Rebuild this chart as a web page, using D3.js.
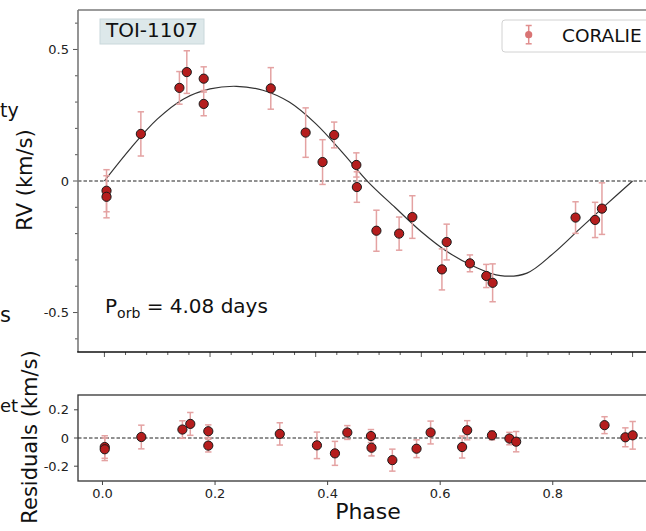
<!DOCTYPE html>
<html><head><meta charset="utf-8">
<script src="https://cdn.jsdelivr.net/npm/d3@7"></script>
<style>
html,body{margin:0;padding:0;background:#fff;overflow:hidden;}
svg{display:block;font-family:"DejaVu Sans",sans-serif;}
</style></head>
<body><svg id="c" width="646" height="531"></svg>
<script>
// ---- data ----
const phases = [0.004, 0.004, 0.069, 0.142, 0.156, 0.188, 0.188, 0.315, 0.381, 0.413, 0.435, 0.477, 0.478, 0.515, 0.558, 0.583, 0.639, 0.648, 0.692, 0.723, 0.735, 0.892, 0.929, 0.942];
const rvValues = [-0.037, -0.060, 0.179, 0.354, 0.414, 0.389, 0.293, 0.352, 0.184, 0.072, 0.175, 0.061, -0.023, -0.189, -0.200, -0.137, -0.336, -0.232, -0.313, -0.361, -0.387, -0.139, -0.148, -0.105];
const rvErrors = [0.080, 0.080, 0.084, 0.062, 0.081, 0.045, 0.045, 0.079, 0.094, 0.085, 0.049, 0.046, 0.058, 0.078, 0.063, 0.081, 0.078, 0.068, 0.032, 0.044, 0.072, 0.060, 0.067, 0.098];
const residuals = [-0.064, -0.080, 0.007, 0.060, 0.100, 0.048, -0.054, 0.029, -0.052, -0.109, 0.039, 0.014, -0.069, -0.157, -0.076, 0.039, -0.064, 0.055, 0.019, -0.004, -0.026, 0.091, 0.005, 0.019];
const modelPhase = [0.00, 0.05, 0.10, 0.15, 0.20, 0.25, 0.30, 0.35, 0.40, 0.45, 0.50, 0.55, 0.60, 0.65, 0.70, 0.75, 0.80, 0.85, 0.90, 0.95, 1.00];
const modelRV = [0.000, 0.125, 0.235, 0.312, 0.350, 0.360, 0.345, 0.300, 0.218, 0.110, -0.005, -0.100, -0.193, -0.270, -0.325, -0.360, -0.350, -0.275, -0.182, -0.090, 0.000];
const rvTicks = [-0.5, 0, 0.5];
const rvTickLabels = ["-0.5", "0", "0.5"];
const resTicks = [-0.2, 0, 0.2];
const resTickLabels = ["-0.2", "0", "0.2"];
const phaseTicks = [0.0, 0.2, 0.4, 0.6, 0.8];
const phaseTickLabels = ["0.0", "0.2", "0.4", "0.6", "0.8"];
const targetName = "TOI-1107";
const instrument = "CORALIE";
const periodDays = "4.08";

const svg = d3.select("#c");
const L = 78, R = 659;
const top1 = 10, bot1 = 352, top2 = 395, bot2 = 481;

const x1 = d3.scaleLinear().domain([-0.05, 1.05]).range([L, R]);
const y1 = d3.scaleLinear().domain([-0.65, 0.65]).range([bot1, top1]);
const x2 = d3.scaleLinear().domain([-0.0435, 0.987]).range([L, R - 1]);
const y2 = d3.scaleLinear().domain([-0.305, 0.305]).range([bot2, top2]);

const errColor = "#e4a2a2", markFill = "#b51d1d";

// ---------- top panel ----------
const g1 = svg.append("g");
g1.append("rect").attr("x", L).attr("y", top1).attr("width", R - L).attr("height", bot1 - top1).attr("fill", "#fff");

g1.append("line").attr("x1", L).attr("x2", R).attr("y1", y1(0)).attr("y2", y1(0))
  .attr("stroke", "#222").attr("stroke-width", 1).attr("stroke-dasharray", "3.5,2");

const line1 = d3.line().x((d, i) => x1(modelPhase[i])).y(d => y1(d)).curve(d3.curveCatmullRom.alpha(0.5));
g1.append("path").datum(modelRV).attr("d", line1).attr("fill", "none").attr("stroke", "#333").attr("stroke-width", 1.2);

function errorBars(g, xs, vals, errs, xsc, ysc) {
  const eg = g.append("g").attr("stroke", errColor).attr("stroke-width", 1.5);
  vals.forEach((v, i) => {
    const cx = xsc(xs[i]);
    const ya = ysc(v + errs[i]), yb = ysc(v - errs[i]);
    eg.append("line").attr("x1", cx).attr("x2", cx).attr("y1", ya).attr("y2", yb);
    eg.append("line").attr("x1", cx - 3.2).attr("x2", cx + 3.2).attr("y1", ya).attr("y2", ya);
    eg.append("line").attr("x1", cx - 3.2).attr("x2", cx + 3.2).attr("y1", yb).attr("y2", yb);
  });
  g.append("g").selectAll("circle").data(vals).join("circle")
    .attr("cx", (d, i) => xsc(xs[i])).attr("cy", d => ysc(d)).attr("r", 4.6)
    .attr("fill", markFill).attr("stroke", "#1a1a1a").attr("stroke-width", 1);
}
errorBars(g1, phases, rvValues, rvErrors, x1, y1);

const yMinor1 = d3.range(-6, 7).map(k => k / 10);
const ax1 = svg.append("g").attr("stroke", "#555");
yMinor1.forEach(v => {
  const major = rvTicks.some(t => Math.abs(t - v) < 1e-9);
  ax1.append("line").attr("x1", L - (major ? 5 : 3)).attr("x2", L).attr("y1", y1(v)).attr("y2", y1(v)).attr("stroke-width", 1);
});
rvTicks.forEach((t, i) => {
  svg.append("text").attr("x", L - 9).attr("y", y1(t) + 4.6).attr("text-anchor", "end")
    .attr("font-size", 13).attr("fill", "#222").text(rvTickLabels[i]);
});
d3.range(0, 26).map(k => k * 0.04).forEach(v => {
  const major = Math.abs(v / 0.2 - Math.round(v / 0.2)) < 1e-6;
  ax1.append("line").attr("x1", x1(v)).attr("x2", x1(v)).attr("y1", bot1).attr("y2", bot1 + (major ? 5 : 3)).attr("stroke-width", 1);
});

svg.append("line").attr("x1", L).attr("x2", R).attr("y1", top1).attr("y2", top1).attr("stroke", "#7a7a7a").attr("stroke-width", 1.6);
svg.append("line").attr("x1", L).attr("x2", L).attr("y1", top1).attr("y2", bot1).attr("stroke", "#7a7a7a").attr("stroke-width", 1.6);
svg.append("line").attr("x1", L - 0.8).attr("x2", R).attr("y1", bot1).attr("y2", bot1).attr("stroke", "#111").attr("stroke-width", 1.5);

svg.append("rect").attr("x", 100).attr("y", 19).attr("width", 104).attr("height", 25)
  .attr("fill", "#dde8ea").attr("stroke", "#c9d8db").attr("stroke-width", 1);
svg.append("text").attr("x", 152).attr("y", 36.5).attr("text-anchor", "middle")
  .attr("font-size", 20).attr("fill", "#111").text(targetName);

const pt = svg.append("text").attr("x", 105).attr("y", 313).attr("font-size", 20).attr("fill", "#111");
pt.append("tspan").text("P");
pt.append("tspan").attr("font-size", 14).attr("dy", 5).text("orb");
pt.append("tspan").attr("dy", -5).text(" = " + periodDays + " days");

svg.append("rect").attr("x", 502).attr("y", 20).attr("width", 170).attr("height", 32).attr("rx", 3)
  .attr("fill", "#fff").attr("stroke", "#d2d2d2").attr("stroke-width", 1);
const lg = svg.append("g").attr("stroke", "#e08e8e").attr("stroke-width", 1.5);
lg.append("line").attr("x1", 528.7).attr("x2", 528.7).attr("y1", 25.5).attr("y2", 43.8);
lg.append("line").attr("x1", 525.7).attr("x2", 531.7).attr("y1", 25.5).attr("y2", 25.5);
lg.append("line").attr("x1", 525.7).attr("x2", 531.7).attr("y1", 43.8).attr("y2", 43.8);
svg.append("circle").attr("cx", 528.7).attr("cy", 34.7).attr("r", 3.6).attr("fill", "#d97474");
svg.append("text").attr("x", 562).attr("y", 41.5).attr("font-size", 18.5).attr("fill", "#111").text(instrument);

// ---------- bottom panel ----------
const g2 = svg.append("g");
g2.append("line").attr("x1", L).attr("x2", R).attr("y1", y2(0)).attr("y2", y2(0))
  .attr("stroke", "#222").attr("stroke-width", 1).attr("stroke-dasharray", "3.5,2");
errorBars(g2, phases, residuals, rvErrors, x2, y2);

svg.append("rect").attr("x", L).attr("y", top2).attr("width", R - L).attr("height", bot2 - top2)
  .attr("fill", "none").attr("stroke", "#333").attr("stroke-width", 1.3);

const ax2 = svg.append("g").attr("stroke", "#444");
resTicks.forEach((t, i) => {
  ax2.append("line").attr("x1", L - 4).attr("x2", L).attr("y1", y2(t)).attr("y2", y2(t));
  svg.append("text").attr("x", L - 9).attr("y", y2(t) + 4.6).attr("text-anchor", "end")
    .attr("font-size", 13).attr("fill", "#222").text(resTickLabels[i]);
});
phaseTicks.forEach((t, i) => {
  ax2.append("line").attr("x1", x2(t)).attr("x2", x2(t)).attr("y1", bot2).attr("y2", bot2 + 4);
  svg.append("text").attr("x", x2(t)).attr("y", 498).attr("text-anchor", "middle")
    .attr("font-size", 13).attr("fill", "#222").text(phaseTickLabels[i]);
});

svg.append("text").attr("transform", "translate(32,180) rotate(-90)").attr("text-anchor", "middle")
  .attr("font-size", 21).attr("fill", "#111").text("RV (km/s)");
svg.append("text").attr("transform", "translate(37,437) rotate(-90)").attr("text-anchor", "middle")
  .attr("font-size", 21).attr("fill", "#111").text("Residuals (km/s)");
svg.append("text").attr("x", 368).attr("y", 519).attr("text-anchor", "middle")
  .attr("font-size", 22).attr("fill", "#111").text("Phase");

// fragments of neighbouring labels visible at the left edge
svg.append("text").attr("x", 0).attr("y", 117).attr("font-size", 19).attr("fill", "#111").text("ty");
svg.append("text").attr("x", 0).attr("y", 322).attr("font-size", 21).attr("fill", "#111").text("s");
svg.append("text").attr("x", 0).attr("y", 412).attr("font-size", 18).attr("fill", "#111").text("et");
</script></body></html>
